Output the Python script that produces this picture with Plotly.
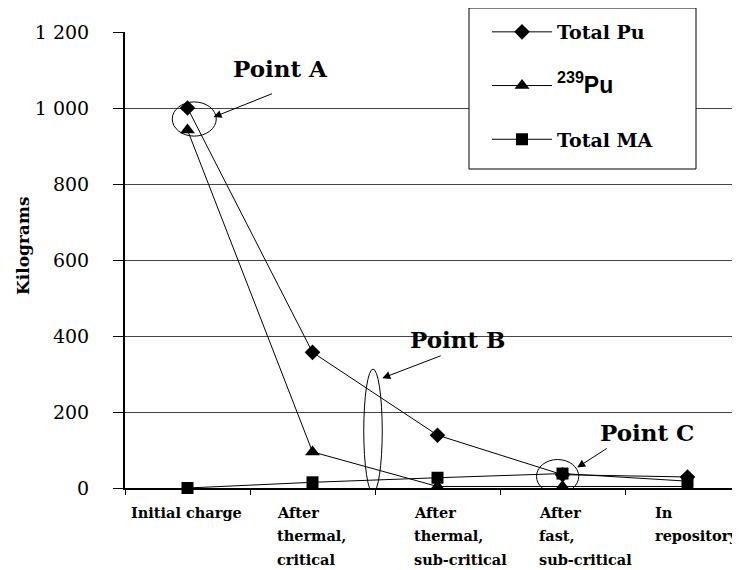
import plotly.graph_objects as go

categories = [["Initial charge"], ["After", "thermal,", "critical"], ["After", "thermal,", "sub-critical"],
              ["After", "fast,", "sub-critical"], ["In", "repository"]]
x_idx = [0, 1, 2, 3, 4]
total_pu = [1000, 357, 139, 35, 29]
pu239 = [942, 95, 4, 4, 4]
total_ma = [0, 15, 27, 38, 18]
y_ticks = [0, 200, 400, 600, 800, 1000, 1200]
y_ticktext = ["0", "200", "400", "600", "800", "1 000", "1 200"]

SERIF = "DejaVu Serif"
SANS = "Liberation Sans"

OFF = 8
L, T, B = 125 - OFF, 32 - OFF, 82
W, H = 740 - OFF, 570 - OFF
PW, PH = 740 - 125, 488 - 32

fig = go.Figure()
series = [
    ("<b>Total Pu</b>", total_pu, "diamond", 12),
    ("<span style='font-family:Liberation Sans;font-size:23px'><b><sup>239</sup>Pu</b></span>", pu239, "triangle-up", 13),
    ("<b>Total MA</b>", total_ma, "square", 12),
]
for i, (name, vals, sym, sz) in enumerate(series):
    fig.add_trace(go.Scatter(
        x=x_idx, y=vals, name=name, mode="lines+markers",
        line=dict(color="black", width=1),
        marker=dict(symbol=sym, size=sz, color="black"),
        cliponaxis=False, legendgroup=str(i),
    ))

ellipses = [(-0.122, 926, 0.23, 1016), (1.41, -12, 1.558, 313), (2.792, -14, 3.13, 75)]
for x0, y0, x1, y1 in ellipses:
    fig.add_shape(type="circle", xref="x", yref="y", x0=x0, x1=x1, y0=y0, y1=y1,
                  line=dict(color="black", width=1))

arrows = [(0.208, 976, 60, -24), (1.558, 289, 60, -23), (3.118, 54, 31, -20)]
for x, y, ax, ay in arrows:
    fig.add_annotation(x=x, y=y, ax=ax, ay=ay, axref="pixel", ayref="pixel", text="",
                       showarrow=True, arrowhead=2, arrowsize=1.6, arrowwidth=1, arrowcolor="black")

labels = [("Point A", 0.744, 1105), ("Point B", 2.16, 392), ("Point C", 3.672, 147)]
for t, x, y in labels:
    fig.add_annotation(x=x, y=y, text="<b>" + t + "</b>", showarrow=False,
                       font=dict(family=SERIF, size=23, color="black"))

# category labels: one text per line, lines left-aligned within each block
left_shift = [None, -38, -26, -26, -35]
for i, lines in enumerate(categories):
    for j, line in enumerate(lines):
        if left_shift[i] is None:
            kw = dict(xanchor="center", xshift=-1)
        else:
            kw = dict(xanchor="left", xshift=left_shift[i])
        fig.add_annotation(x=x_idx[i], y=0, yref="y", yshift=-(24 + 23.5 * j),
                           text="<b>" + line + "</b>", showarrow=False, yanchor="middle",
                           font=dict(family=SERIF, size=14.5, color="black"), **kw)

fig.add_annotation(xref="paper", yref="paper", x=(23 - 125) / PW, y=(488 - 246) / PH,
                   text="<b>Kilograms</b>", textangle=-90, showarrow=False,
                   xanchor="center", yanchor="middle",
                   font=dict(family=SERIF, size=17, color="black"))

fig.add_shape(type="rect", xref="paper", yref="paper",
              x0=(469 - 125) / PW, x1=(696 - 125) / PW,
              y0=(488 - 169) / PH, y1=(488 - 8) / PH,
              line=dict(color="black", width=1), fillcolor="white", layer="above")

fig.update_layout(
    width=W, height=H,
    margin=dict(l=L, r=0, t=T, b=B),
    paper_bgcolor="white", plot_bgcolor="white",
    font=dict(family=SERIF, color="black"),
    showlegend=True,
    legend=dict(x=(487 - 125) / PW, y=(488 - 13) / PH, xanchor="left", yanchor="top",
                bgcolor="rgba(0,0,0,0)", borderwidth=0, tracegroupgap=26,
                font=dict(family=SERIF, size=19, color="black"), itemwidth=60),
    xaxis=dict(range=[-0.5, 4.42], tickvals=[-0.5, 0.5, 1.5, 2.5, 3.5],
               ticktext=["", "", "", "", ""], ticks="outside", ticklen=5, tickcolor="black",
               showgrid=False, zeroline=False, showline=True, linecolor="black", linewidth=1.5),
    yaxis=dict(range=[0, 1200], tickvals=y_ticks, ticktext=y_ticktext, ticks="outside",
               ticklen=10, tickcolor="black", showgrid=True, gridcolor="#444444", gridwidth=1,
               zeroline=False, showline=True, linecolor="black", linewidth=2,
               tickfont=dict(family=SERIF, size=19, color="black"), ticklabelstandoff=20),
)

fig.write_html("out.html")
